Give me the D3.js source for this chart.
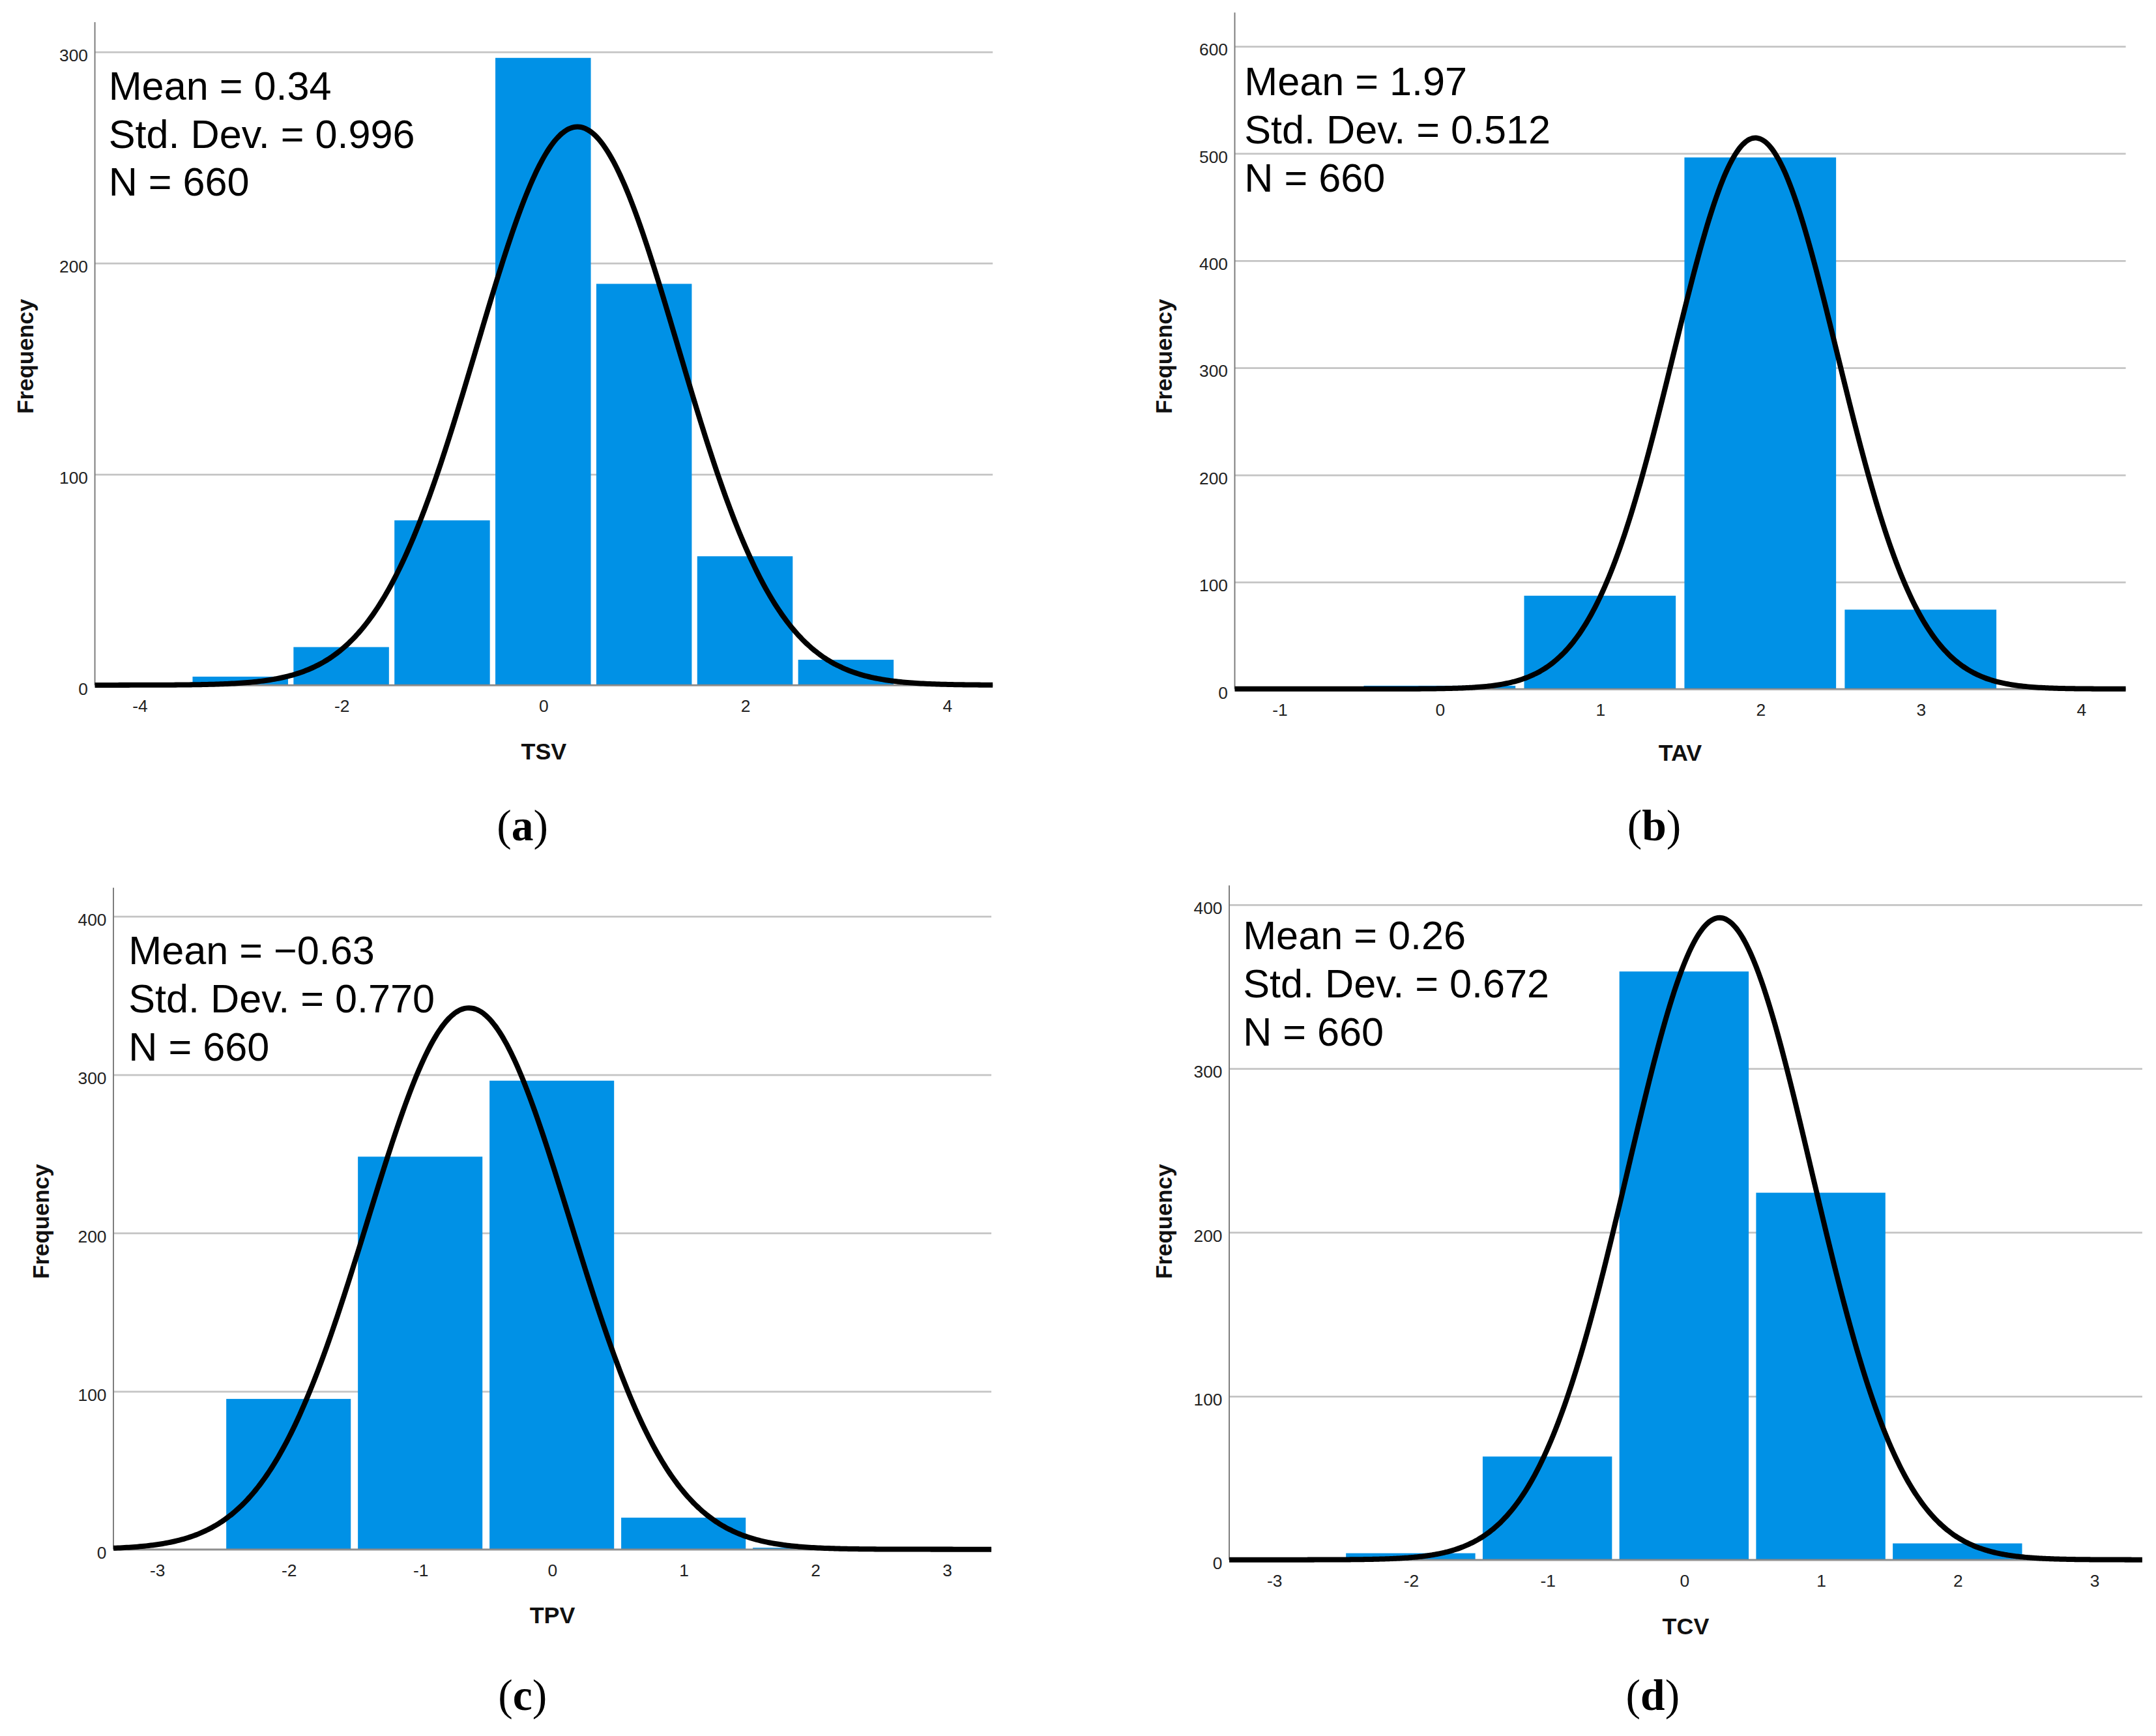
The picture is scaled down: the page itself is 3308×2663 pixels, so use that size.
<!DOCTYPE html>
<html>
<head>
<meta charset="utf-8">
<script src="https://cdn.jsdelivr.net/npm/d3@7/dist/d3.min.js"></script>
<style>
  html, body { margin: 0; padding: 0; background: #fff; }
  svg { display: block; }
</style>
</head>
<body>
<script>
// histogram counts
var tsvValues = [-3, -2, -1, 0, 1, 2, 3];
var tsvCounts = [4, 18, 78, 297, 190, 61, 12];

var tavValues = [0, 1, 2, 3];
var tavCounts = [3, 87, 496, 74];

var tpvValues = [-2, -1, 0, 1, 2];
var tpvCounts = [95, 248, 296, 20, 1];

var tcvValues = [-2, -1, 0, 1, 2];
var tcvCounts = [4, 63, 359, 224, 10];

// summary statistics printed in each panel
var variableNames = ['TSV', 'TAV', 'TPV', 'TCV'];
var panelLetters = ['a', 'b', 'c', 'd'];
var statMeans = [0.34, 1.97, -0.63, 0.26];
var statSDs = [0.996, 0.512, 0.770, 0.672];
var statN = [660, 660, 660, 660];

// tick labels
var tsvXTicks = [-4, -2, 0, 2, 4];
var tsvYTicks = [0, 100, 200, 300];
var tavXTicks = [-1, 0, 1, 2, 3, 4];
var tavYTicks = [0, 100, 200, 300, 400, 500, 600];
var tpvXTicks = [-3, -2, -1, 0, 1, 2, 3];
var tpvYTicks = [0, 100, 200, 300, 400];
var tcvXTicks = [-3, -2, -1, 0, 1, 2, 3];
var tcvYTicks = [0, 100, 200, 300, 400];

var values = [tsvValues, tavValues, tpvValues, tcvValues];
var counts = [tsvCounts, tavCounts, tpvCounts, tcvCounts];
var xTicks = [tsvXTicks, tavXTicks, tpvXTicks, tcvXTicks];
var yTicks = [tsvYTicks, tavYTicks, tpvYTicks, tcvYTicks];

// layout, in a 1568 x 1262 frame scaled up to the page
var layout = [
    {left: 69, right: 722, top: 16, bottom: 498, xDomain: [-4.441, 4.455], yMax: 313.9,
     statX: 79, statY: 72.3, freqX: 18.5, freqY: 259, titleY: 552, labelX: 380, labelY: 611}
    , {left: 898, right: 1546, top: 9, bottom: 500.8, xDomain: [-1.278, 4.28], yMax: 631.2,
     statX: 905, statY: 69, freqX: 846.5, freqY: 259, titleY: 553, labelX: 1203, labelY: 611}
    , {left: 82.5, right: 721, top: 645.3, bottom: 1126.4, xDomain: [-3.33, 3.339], yMax: 417.9,
     statX: 93.5, statY: 700.9, freqX: 30, freqY: 888, titleY: 1180, labelX: 380, labelY: 1243}
    , {left: 894, right: 1558, top: 643.7, bottom: 1134, xDomain: [-3.327, 3.352], yMax: 411.5,
     statX: 904, statY: 690, freqX: 846.5, freqY: 888, titleY: 1188, labelX: 1202, labelY: 1243}
];

var barColor = '#0091e6';
var fmtMean = d3.format('.2f');
var fmtSD = d3.format('.3f');

var svg = d3.select('body').append('svg')
    .attr('width', 3308)
    .attr('height', 2663)
    .attr('viewBox', '0 0 1568 1262');

layout.forEach(function(L, i) {
    var x = d3.scaleLinear().domain(L.xDomain).range([L.left, L.right]);
    var y = d3.scaleLinear().domain([0, L.yMax]).range([L.bottom, L.top]);
    var g = svg.append('g');

    // gridlines + y tick labels
    var yAxis = g.append('g')
        .attr('transform', 'translate(' + L.left + ',0)')
        .call(d3.axisLeft(y).tickValues(yTicks[i]).tickSize(-(L.right - L.left)).tickPadding(5)
            .tickFormat(function(d) { return String(d); }));
    yAxis.select('.domain').remove();
    yAxis.selectAll('line').attr('stroke', '#c4c4c4').attr('stroke-width', 1.3);
    yAxis.selectAll('text')
        .attr('dy', '0.52em')
        .style('font-family', '"Liberation Sans", Arial, sans-serif')
        .style('font-size', '12.5px')
        .attr('fill', '#222');

    // bars
    var data = values[i].map(function(v, k) { return {v: v, n: counts[i][k]}; });
    var pad = 0.027;
    g.append('g').selectAll('rect')
        .data(data)
        .enter()
        .append('rect')
        .attr('x', function(d) { return x(d.v - 0.5 + pad); })
        .attr('width', function(d) { return x(d.v + 0.5 - pad) - x(d.v - 0.5 + pad); })
        .attr('y', function(d) { return y(d.n); })
        .attr('height', function(d) { return y(0) - y(d.n); })
        .attr('fill', barColor);

    // x axis labels
    var xAxis = g.append('g')
        .attr('transform', 'translate(0,' + L.bottom + ')')
        .call(d3.axisBottom(x).tickValues(xTicks[i]).tickSize(0).tickPadding(10.5)
            .tickFormat(function(d) { return String(d); }));
    xAxis.select('.domain').remove();
    xAxis.selectAll('text')
        .style('font-family', '"Liberation Sans", Arial, sans-serif')
        .style('font-size', '12.5px')
        .attr('fill', '#222');

    // axis lines
    g.append('line')
        .attr('x1', L.left).attr('x2', L.left)
        .attr('y1', L.top).attr('y2', L.bottom)
        .attr('stroke', '#777').attr('stroke-width', 0.9);
    g.append('line')
        .attr('x1', L.left).attr('x2', L.right)
        .attr('y1', L.bottom).attr('y2', L.bottom)
        .attr('stroke', '#888').attr('stroke-width', 1);

    // fitted normal curve: N * bin width * pdf
    var mu = statMeans[i], sd = statSDs[i], n = statN[i];
    var step = (L.xDomain[1] - L.xDomain[0]) / 400;
    var pts = d3.range(L.xDomain[0], L.xDomain[1] + step / 2, step).map(function(t) {
        var z = (t - mu) / sd;
        return [t, n / (sd * Math.sqrt(2 * Math.PI)) * Math.exp(-0.5 * z * z)];
    });
    g.append('path')
        .datum(pts)
        .attr('d', d3.line().x(function(d) { return x(d[0]); }).y(function(d) { return y(d[1]); }).curve(d3.curveBasis))
        .attr('fill', 'none')
        .attr('stroke', '#000')
        .attr('stroke-width', 3.8)
        .attr('stroke-linejoin', 'round');

    // statistics text
    var lines = ['Mean = ' + fmtMean(mu), 'Std. Dev. = ' + fmtSD(sd), 'N = ' + n];
    g.append('g').selectAll('text')
        .data(lines)
        .enter()
        .append('text')
        .attr('x', L.statX)
        .attr('y', function(d, k) { return L.statY + k * 35; })
        .style('font-family', '"Liberation Sans", Arial, sans-serif')
        .style('font-size', '29px')
        .attr('fill', '#000')
        .text(function(d) { return d; });

    // axis titles
    g.append('text')
        .attr('transform', 'translate(' + L.freqX + ',' + L.freqY + ') rotate(-90)')
        .attr('text-anchor', 'middle')
        .attr('dy', '0.35em')
        .style('font-family', '"Liberation Sans", Arial, sans-serif')
        .style('font-size', '16.5px')
        .style('font-weight', 'bold')
        .attr('fill', '#111')
        .text('Frequency');
    g.append('text')
        .attr('x', (L.left + L.right) / 2)
        .attr('y', L.titleY)
        .attr('text-anchor', 'middle')
        .style('font-family', '"Liberation Sans", Arial, sans-serif')
        .style('font-size', '17px')
        .style('font-weight', 'bold')
        .attr('fill', '#111')
        .text(variableNames[i]);

    // panel letter
    var lab = g.append('text')
        .attr('x', L.labelX)
        .attr('y', L.labelY)
        .attr('text-anchor', 'middle')
        .style('font-family', '"Liberation Serif", "Times New Roman", serif')
        .style('font-size', '32px')
        .attr('fill', '#000');
    lab.append('tspan').text('(');
    lab.append('tspan').style('font-weight', 'bold').text(panelLetters[i]);
    lab.append('tspan').text(')');
});
</script>
</body>
</html>
